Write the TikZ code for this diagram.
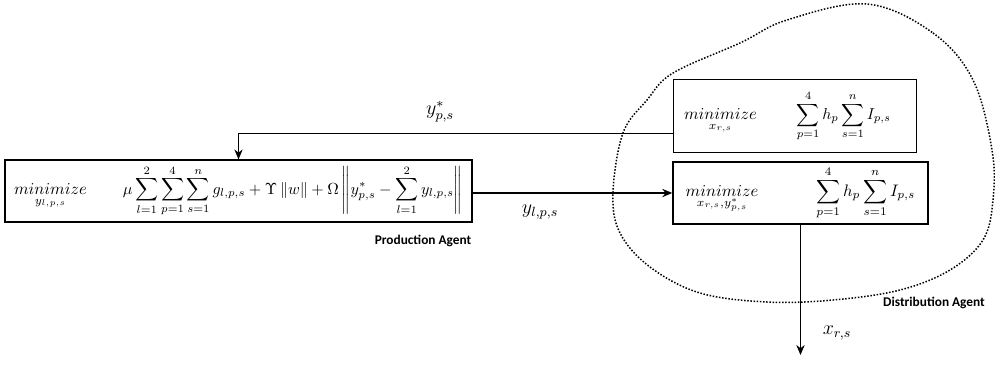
\documentclass[tikz,border=0pt]{standalone}
\usepackage{amsmath}
\usepackage{amssymb}
\usepackage{fontspec}
\newfontfamily\agentfont{Carlito}
\usetikzlibrary{
  arrows.meta, % Stealth 箭头
  calc         % 坐标计算
}
\tikzset{
  flow/.style={
    -{Stealth[length=6pt,width=5pt]},
    line width=0.8pt
  },
  opt box/.style={
    draw,
    line width=0.9pt,
    inner sep=2pt,
    align=center
  },
  agent label/.style={
    font=\agentfont\bfseries\fontsize{8}{9}\selectfont
  },
  flow label/.style={
    font=\large
  },
  agent border/.style={
    densely dotted,
    line width=0.9pt
  }
}

\begin{document}
\begin{tikzpicture}[x=0.6pt, y=-0.6pt]
  \useasboundingbox (0,0) rectangle (995,364);

  % ==== 1. 生产代理的优化问题 ====
  \node[opt box, minimum width=280pt, minimum height=37pt] (prod) at (238.5,191)
    {$\underset{y_{l,p,s}}{minimize}$\qquad\,%
     \scalebox{0.96}{$\displaystyle\mu\sum_{l=1}^{2}\sum_{p=1}^{4}\sum_{s=1}^{n} g_{l,p,s}
      + \Upsilon\left\|w\right\| + \Omega\left\| y^{*}_{p,s} - \sum_{l=1}^{2} y_{l,p,s}\right\|$}};
  \node[agent label] (prodlabel) at (423,241) {Production Agent};

  % ==== 2. 分销代理的两个优化问题 ====
  \node[opt box, minimum width=146pt, minimum height=44pt] (distup) at (795,116)
    {$\underset{x_{r,s}}{minimize}$\qquad\hspace{4pt}%
     \scalebox{0.95}{$\displaystyle\sum_{p=1}^{4} h_p\sum_{s=1}^{n} I_{p,s}$}\hspace{9pt}};
  \node[opt box, minimum width=153pt, minimum height=37pt] (distlow) at (800.5,193)
    {$\underset{x_{r,s},y^{*}_{p,s}}{minimize}\qquad\quad\hspace{3pt}
      \displaystyle\sum_{p=1}^{4} h_p\sum_{s=1}^{n} I_{p,s}$};

  % 分销代理的虚线边界
  \draw[agent border] plot[smooth cycle, tension=0.6] coordinates {
    (867,4) (933,33) (973,80) (992,150) (993,200) (983,240) (950,270)
    (900,290) (833,300) (767,302) (700,293) (650,267) (620,233)
    (613,193) (623,133) (647,100) (673,73) (740,43) (787,20)};
  \node[agent label] (distlabel) at (934,303) {Distribution Agent};

  % ==== 3. 代理之间的信息流 ====
  \coordinate (ystarout) at ($(distup.south west)!0.27!(distup.north west)$);
  \draw[flow] (ystarout) -| (prod.north);
  \node[flow label] (ystar) at (440,112) {$y^{*}_{p,s}$};

  \draw[flow] (prod.east |- distlow.west) -- (distlow.west);
  \node[flow label] (ylps) at (540,212) {$y_{l,p,s}$};

  \coordinate (xout) at (distlow.south |- 0,355);
  \draw[flow] (distlow.south) -- (xout);
  \node[flow label] (xrs) at (837,333) {$x_{r,s}$};
\end{tikzpicture}
\end{document}
